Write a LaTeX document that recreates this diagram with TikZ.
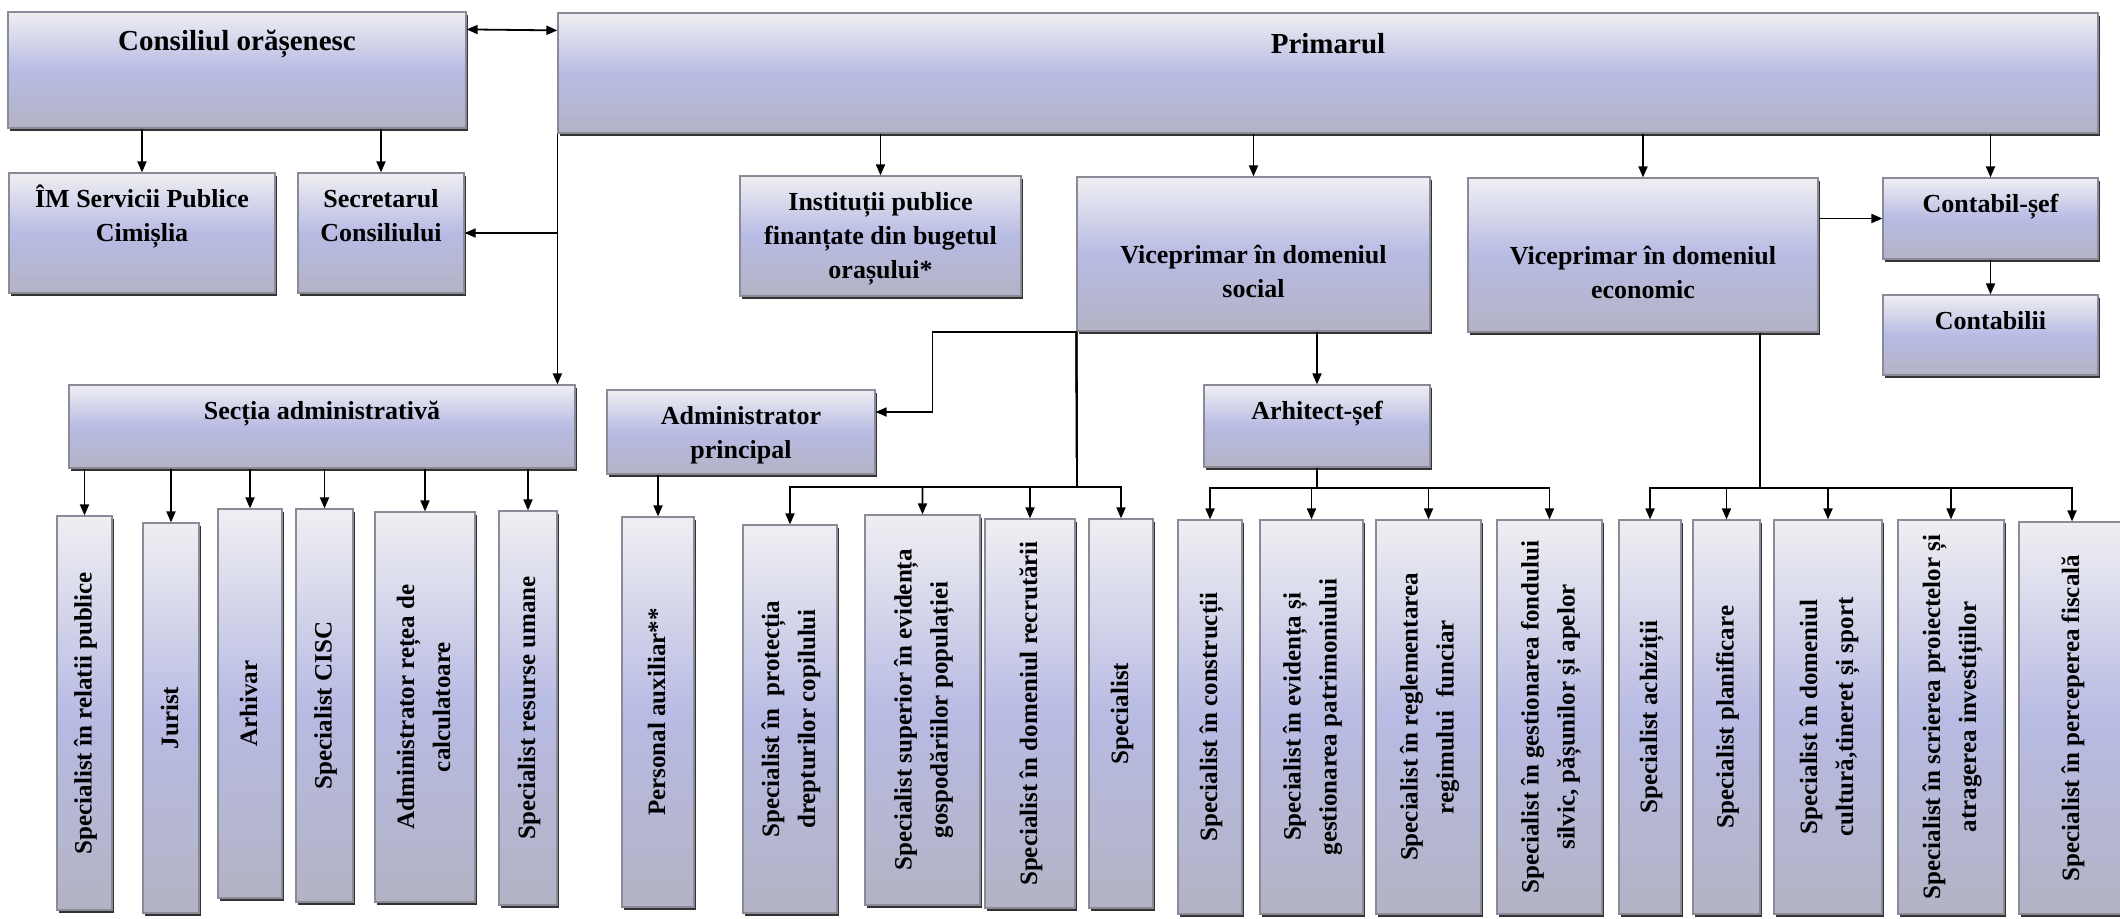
\documentclass[tikz,border=0pt]{standalone}
\usepackage{fontspec}
\setmainfont{Liberation Serif}
\usepackage{graphicx}
\usetikzlibrary{arrows.meta,shadows}

\definecolor{boxtop}{HTML}{EFEFF2}
\definecolor{boxmid}{HTML}{B8BBE3}
\definecolor{boxbot}{HTML}{B3B3C5}
\definecolor{boxline}{HTML}{8A8A98}

\newcommand{\vlab}[1]{\rotatebox{90}{\begin{tabular}{@{}c@{}}#1\end{tabular}}}

\begin{document}
\begin{tikzpicture}[x=0.5pt,y=-0.5pt,>={Triangle[length=5.5pt,width=4.5pt]},
  box/.style={draw=boxline,line width=0.6pt,top color=boxtop,bottom color=boxbot,middle color=boxmid,
    drop shadow={shadow xshift=1pt,shadow yshift=-1.5pt,fill=black!80,opacity=1},inner sep=0pt},
  wh/.style 2 args={minimum width=#1*0.5pt,minimum height=#2*0.5pt},
  hbox/.style={box},
  vbox/.style={box,font=\fontsize{12.5}{18}\selectfont\bfseries},
  hlbl/.style={anchor=north,align=center,inner sep=0pt,yshift=-8pt,font=\fontsize{13}{17}\selectfont\bfseries},
  title/.style={hlbl,yshift=-1pt,font=\fontsize{14.5}{17}\selectfont\bfseries},
  every path/.style={line width=0.9pt}]
\useasboundingbox (0,0) rectangle (2120,918);

\node[hbox,wh={458}{116},label={[title]north:Consiliul orășenesc}] (cons) at (237,70) {};
\node[hbox,wh={1540}{120},label={[title,yshift=-1pt]north:Primarul}] (prim) at (1328,73) {};
\node[hbox,wh={266}{120},label={[hlbl,yshift=2pt]north:{ÎM Servicii Publice\\Cimișlia}}] (im) at (142,233) {};
\node[hbox,wh={166}{120},label={[hlbl]north:{Secretarul\\Consiliului}}] (secr) at (381,233) {};
\node[hbox,wh={281}{120},label={[hlbl]north:{Instituții publice\\finanțate din bugetul\\orașului*}}] (inst) at (880.5,236) {};
\node[hbox,wh={353}{154},label={[hlbl,yshift=-26pt]north:{Viceprimar în domeniul\\social}}] (vsoc) at (1253.5,254) {};
\node[hbox,wh={350}{154},label={[hlbl,yshift=-26pt]north:{Viceprimar în domeniul\\economic}}] (veco) at (1643,255) {};
\node[hbox,wh={215}{81},label={[hlbl]north:Contabil-șef}] (csef) at (1990.5,218.5) {};
\node[hbox,wh={215}{80},label={[hlbl]north:Contabilii}] (cont) at (1990.5,335) {};
\node[hbox,wh={506}{83},label={[hlbl]north:Secția administrativă}] (sect) at (322,426.5) {};
\node[hbox,wh={268}{84},label={[hlbl]north:{Administrator\\principal}}] (adm) at (741,432) {};
\node[hbox,wh={226}{82},label={[hlbl]north:Arhitect-șef}] (arh) at (1317,426) {};

\node[vbox,wh={55}{394}] (rel) at (84.5,713) {\vlab{Specialist în relatii publice}};
\node[vbox,wh={56}{390}] (jur) at (171,718) {\vlab{Jurist}};
\node[vbox,wh={64}{389}] (arhv) at (250,703.5) {\vlab{Arhivar}};
\node[vbox,wh={57}{393}] (cisc) at (324.5,705.5) {\vlab{Specialist CISC}};
\node[vbox,wh={100}{390}] (retea) at (425,707) {\vlab{Administrator rețea de\\calculatoare}};
\node[vbox,wh={58}{394}] (rum) at (528,708) {\vlab{Specialist resurse umane}};
\node[vbox,wh={72}{390}] (pers) at (658,712) {\vlab{Personal auxiliar**}};
\node[vbox,wh={94}{388}] (prot) at (790,719) {\vlab{Specialist în \ protecția\\drepturilor copilului}};
\node[vbox,wh={115}{390}] (sup) at (922.5,710) {\vlab{Specialist superior în evidența\\gospodăriilor populației}};
\node[vbox,wh={90}{389}] (recr) at (1030,713.5) {\vlab{Specialist în domeniul recrutării}};
\node[vbox,wh={64}{389}] (spec) at (1121,713.5) {\vlab{Specialist}};
\node[vbox,wh={64}{394}] (constr) at (1210,717) {\vlab{Specialist în construcții}};
\node[vbox,wh={103}{394}] (evid) at (1311.5,717) {\vlab{Specialist în evidența și\\gestionarea patrimoniului}};
\node[vbox,wh={105}{394}] (regl) at (1428.5,717) {\vlab{Specialist în reglementarea\\regimului \ funciar}};
\node[vbox,wh={105}{394}] (gest) at (1549.5,717) {\vlab{Specialist în gestionarea fondului\\silvic, pășunilor și apelor}};
\node[vbox,wh={62}{394}] (achiz) at (1650,717) {\vlab{Specialist achiziții}};
\node[vbox,wh={67}{394}] (plan) at (1726.5,717) {\vlab{Specialist planificare}};
\node[vbox,wh={108}{394}] (cult) at (1828,717) {\vlab{Specialist în domeniul\\cultură,tineret și sport}};
\node[vbox,wh={106}{394}] (scri) at (1951,717) {\vlab{Specialist în scrierea proiectelor și\\atragerea investițiilor}};
\node[vbox,wh={106}{392}] (perc) at (2072,718) {\vlab{Specialist în perceperea fiscală}};

\coordinate (sbus) at (1077,487);
\coordinate (abus) at (1317,488);
\coordinate (ebus) at (1760,488);

\draw[<->] ([yshift=-9pt]cons.north east) -- ([yshift=-9pt]prim.north west);
\draw[->] (cons.south -| im.north) -- (im.north);
\draw[->] (cons.south -| secr.north) -- (secr.north);
\draw[->] (prim.south west) -- (prim.south west |- sect.north);
\draw[->] (prim.south west |- secr.east) -- (secr.east);
\draw[->] (prim.south -| inst.north) -- (inst.north);
\draw[->] (prim.south -| vsoc.north) -- (vsoc.north);
\draw[->] (prim.south -| veco.north) -- (veco.north);
\draw[->] (prim.south -| csef.north) -- (csef.north);
\draw[->] (veco.east |- csef.west) -- (csef.west);
\draw[->] (csef) -- (cont);
\draw[->] (vsoc.south -| arh.north) -- (arh.north);
\draw[->] (vsoc.south west) -- ++(-144,0) |- ([yshift=10pt]adm.east);

\draw[->] (sect.south -| rel.north) -- (rel.north);
\draw[->] (sect.south -| jur.north) -- (jur.north);
\draw[->] (sect.south -| arhv.north) -- (arhv.north);
\draw[->] (sect.south -| cisc.north) -- (cisc.north);
\draw[->] (sect.south -| retea.north) -- (retea.north);
\draw[->] (sect.south -| rum.north) -- (rum.north);
\draw[->] (adm.south -| pers.north) -- (pers.north);

\draw[->] (vsoc.south west) -- (sbus) -| (prot.north);
\draw[->] (vsoc.south west) -- (sbus) -| (sup.north);
\draw[->] (vsoc.south west) -- (sbus) -| (recr.north);
\draw[->] (vsoc.south west) -- (sbus) -| (spec.north);

\draw[->] (arh.south) -- (abus) -| (constr.north);
\draw[->] (arh.south) -- (abus) -| (evid.north);
\draw[->] (arh.south) -- (abus) -| (regl.north);
\draw[->] (arh.south) -- (abus) -| (gest.north);

\draw[->] (veco.south -| ebus) -- (ebus) -| (achiz.north);
\draw[->] (veco.south -| ebus) -- (ebus) -| (plan.north);
\draw[->] (veco.south -| ebus) -- (ebus) -| (cult.north);
\draw[->] (veco.south -| ebus) -- (ebus) -| (scri.north);
\draw[->] (veco.south -| ebus) -- (ebus) -| (perc.north);
\end{tikzpicture}
\end{document}
